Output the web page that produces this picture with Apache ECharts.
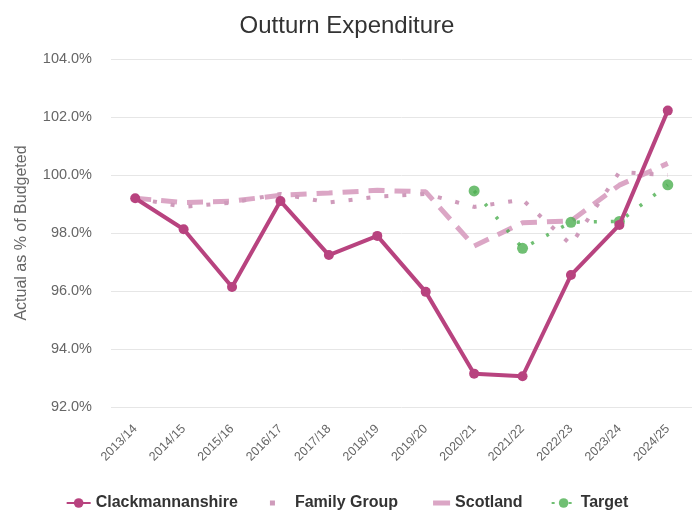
<!DOCTYPE html>
<html>
<head>
<meta charset="utf-8">
<script src="https://cdn.jsdelivr.net/npm/echarts@6/dist/echarts.min.js"></script>
<style>
html,body{margin:0;padding:0;background:#fff;}
#chart{width:694px;height:510px;}
</style>
</head>
<body>
<div id="chart"></div>
<script>
var categories = ['2013/14','2014/15','2015/16','2016/17','2017/18','2018/19','2019/20','2020/21','2021/22','2022/23','2023/24','2024/25'];
var clackmannanshire = [99.2, 98.13, 96.14, 99.1, 97.24, 97.9, 95.97, 93.15, 93.06, 96.55, 98.28, 102.22];
var familyGroup = [99.2, 98.9, 99.05, 99.35, 99.05, 99.25, 99.35, 98.9, 99.15, 97.6, 100.1, 100.0];
var scotland = [99.2, 99.05, 99.1, 99.3, 99.38, 99.47, 99.42, 97.55, 98.35, 98.42, 99.65, 100.4];
var target = [null, null, null, null, null, null, null, 99.45, 97.47, 98.37, 98.4, 99.66];
var yTicks = {min: 92, max: 104, interval: 2};

var FONT = 'Liberation Sans, Arial, sans-serif';
var chart = echarts.init(document.getElementById('chart'));
chart.setOption({
  animation: false,
  backgroundColor: '#fff',
  title: {
    text: 'Outturn Expenditure',
    left: 'center',
    top: 9,
    textStyle: {fontFamily: FONT, fontSize: 24, fontWeight: 'normal', color: '#333'}
  },
  legend: {
    top: 490,
    left: 'center',
    itemGap: 28,
    itemWidth: 24,
    itemHeight: 12,
    textStyle: {fontFamily: FONT, fontSize: 16, fontWeight: 'bold', color: '#333'},
    data: [
      {name: 'Clackmannanshire'},
      {name: 'Family Group', icon: 'path://M0,0 L24,0 Z M4,-2.5 h5 v5 h-5 Z', itemStyle: {borderWidth: 0}},
      {name: 'Scotland', icon: 'path://M0,0 L24,0 Z M7,-2.5 h17 v5 h-17 Z', itemStyle: {borderWidth: 0}},
      {name: 'Target'}
    ]
  },
  grid: {left: 111, right: 2, top: 59, bottom: 103},
  xAxis: {
    type: 'category',
    data: categories,
    boundaryGap: true,
    axisLine: {show: false},
    axisTick: {show: false},
    axisLabel: {rotate: 45, margin: 20, fontFamily: FONT, fontSize: 12.5, color: '#666'}
  },
  yAxis: {
    type: 'value',
    min: yTicks.min,
    max: yTicks.max,
    interval: yTicks.interval,
    name: 'Actual as % of Budgeted',
    nameLocation: 'middle',
    nameRotate: 90,
    nameGap: 81,
    nameTextStyle: {fontFamily: FONT, fontSize: 16, color: '#666'},
    axisLine: {show: false},
    axisTick: {show: false},
    axisLabel: {margin: 19, fontFamily: FONT, fontSize: 14.5, color: '#666',
      formatter: function (v) { return v.toFixed(1) + '%'; }},
    splitLine: {lineStyle: {color: '#e6e6e6', width: 1}}
  },
  series: [
    {
      name: 'Scotland',
      type: 'line',
      data: scotland,
      symbol: 'none',
      z: 1,
      itemStyle: {color: '#dba6c5'},
      lineStyle: {color: '#dba6c5', width: 5, type: [16, 10]}
    },
    {
      name: 'Family Group',
      type: 'line',
      data: familyGroup,
      symbol: 'none',
      z: 2,
      itemStyle: {color: '#cf9bbb'},
      lineStyle: {color: '#cf9bbb', width: 4, type: [4, 14]}
    },
    {
      name: 'Target',
      type: 'line',
      data: target,
      symbol: 'circle',
      symbolSize: 11,
      z: 3,
      itemStyle: {color: 'rgba(76,175,80,0.8)'},
      lineStyle: {color: 'rgba(76,175,80,0.8)', width: 3.5, type: [3, 14]}
    },
    {
      name: 'Clackmannanshire',
      type: 'line',
      data: clackmannanshire,
      symbol: 'circle',
      symbolSize: 10,
      z: 4,
      itemStyle: {color: '#b8437f'},
      lineStyle: {color: '#b8437f', width: 4}
    }
  ]
});
</script>
</body>
</html>
